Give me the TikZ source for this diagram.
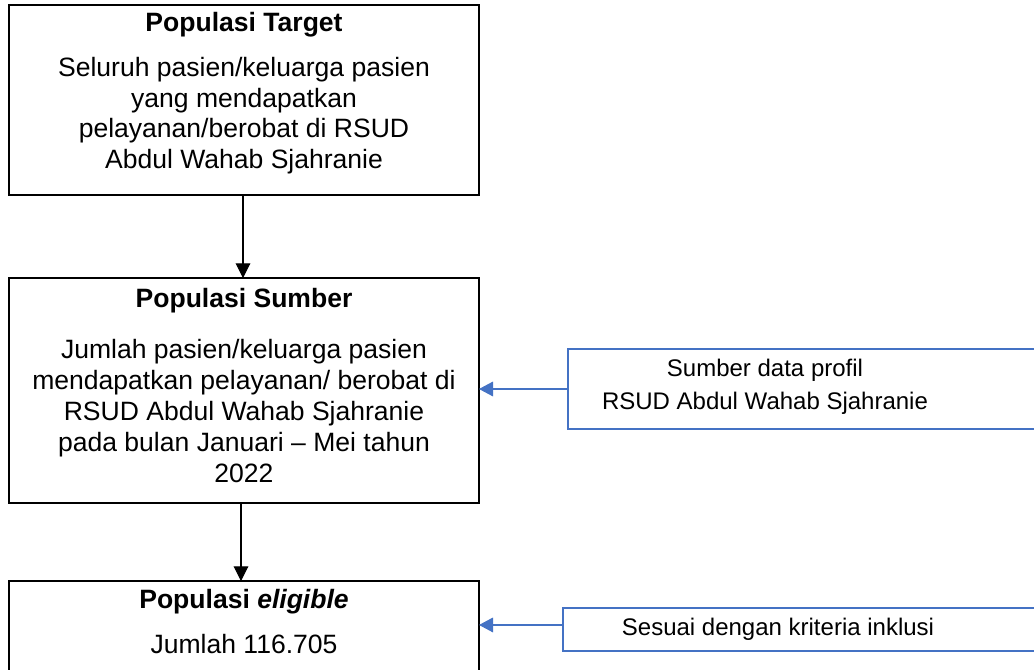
\documentclass[tikz,border=0pt]{standalone}
\usepackage{fontspec}
\setmainfont{Liberation Sans}
\usetikzlibrary{arrows.meta}
\definecolor{accblue}{RGB}{68,114,196}
\tikzset{
  mainbox/.style={draw=black, line width=2pt, inner sep=0pt, outer sep=0pt},
  sidebox/.style={draw=accblue, line width=1.5pt, inner sep=0pt, outer sep=0pt},
  bigtxt/.style={anchor=base, inner sep=0pt, font=\fontsize{19.9pt}{23pt}\selectfont},
  smalltxt/.style={anchor=base, inner sep=0pt, font=\fontsize{18pt}{22pt}\selectfont},
  downarrow/.style={draw=black, line width=0.8pt, -{Triangle[length=11pt,width=11pt]}},
  sidearrow/.style={draw=accblue, line width=0.8pt, -{Triangle[length=10.5pt,width=11pt]}},
}
\begin{document}
\begin{tikzpicture}[x=0.75pt, y=-0.75pt]
\useasboundingbox (0,0) rectangle (1034,670);
\fill[white] (0,0) rectangle (1034,670);

% main boxes
\node[mainbox, minimum width=470*0.75pt, minimum height=190*0.75pt] (b1) at (244,100) {};
\node[mainbox, minimum width=470*0.75pt, minimum height=225*0.75pt] (b2) at (244,390.5) {};
\node[mainbox, minimum width=470*0.75pt, minimum height=140*0.75pt] (b3) at (244,651) {};

% side boxes
\node[sidebox, minimum width=540*0.75pt, minimum height=80*0.75pt] (r1) at (838,389) {};
\node[sidebox, minimum width=545*0.75pt, minimum height=43*0.75pt] (r2) at (835.5,629.5) {};

% box 1 text
\node[bigtxt] (t1) at (244,32) {\bfseries Populasi Target};
\node[bigtxt] (t1a) at (244,77) {Seluruh pasien/keluarga pasien};
\node[bigtxt] (t1b) at (244,107.5) {yang mendapatkan};
\node[bigtxt] (t1c) at (244,138) {pelayanan/berobat di RSUD};
\node[bigtxt] (t1d) at (244,168.5) {Abdul Wahab Sjahranie};

% box 2 text
\node[bigtxt] (t2) at (244,307) {\bfseries Populasi Sumber};
\node[bigtxt] (t2a) at (244,358) {Jumlah pasien/keluarga pasien};
\node[bigtxt] (t2b) at (244,389) {mendapatkan pelayanan/ berobat di};
\node[bigtxt] (t2c) at (244,420) {RSUD Abdul Wahab Sjahranie};
\node[bigtxt] (t2d) at (244,451) {pada bulan Januari – Mei tahun};
\node[bigtxt] (t2e) at (244,482) {2022};

% box 3 text
\node[bigtxt] (t3) at (244,608) {\bfseries Populasi \itshape eligible};
\node[bigtxt] (t3a) at (244,653) {Jumlah 116.705};

% side texts
\node[smalltxt] (s1a) at (765,376) {Sumber data profil};
\node[smalltxt] (s1b) at (765,409) {RSUD Abdul Wahab Sjahranie};
\node[smalltxt] (s2a) at (778,635) {Sesuai dengan kriteria inklusi};

% connectors
\draw[downarrow] ([xshift=-0.75pt]b1.south) -- ([xshift=-0.75pt]b2.north);
\draw[downarrow] ([xshift=-2.25pt]b2.south) -- ([xshift=-2.25pt]b3.north);
\draw[sidearrow] (r1.west) -- (r1.west -| b2.east);
\draw[sidearrow] ([yshift=3.4pt]r2.west) -- ([yshift=3.4pt]r2.west -| b3.east);
\end{tikzpicture}
\end{document}
